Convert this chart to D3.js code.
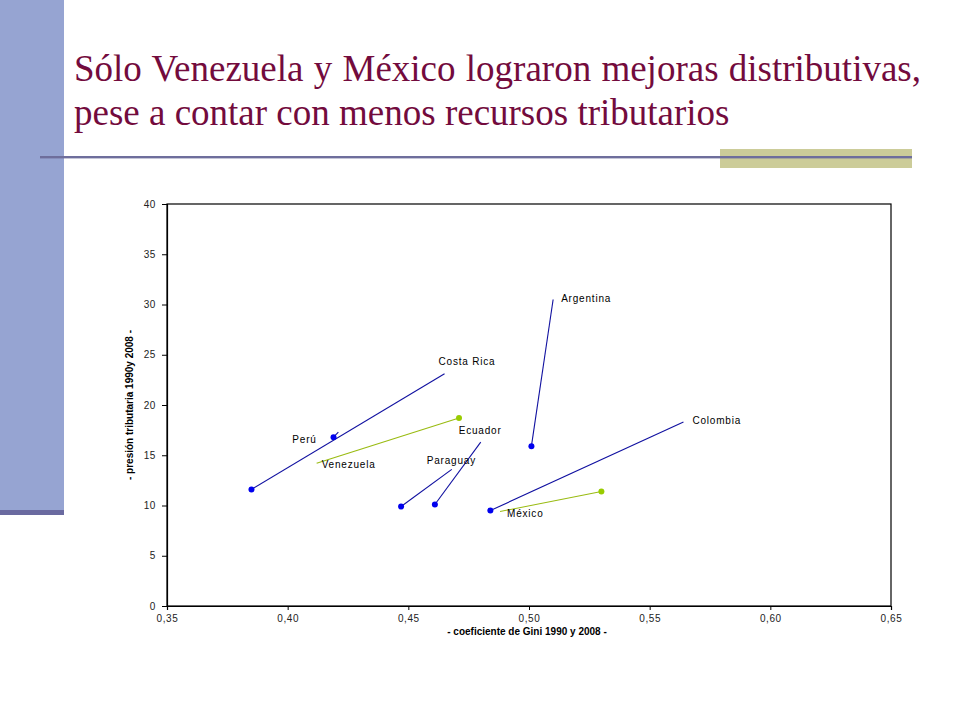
<!DOCTYPE html>
<html><head><meta charset="utf-8">
<script src="https://cdn.jsdelivr.net/npm/d3@7"></script>
<style>
html,body{margin:0;padding:0;background:#fff;}
svg{display:block;}
</style></head>
<body>
<svg id="c" width="960" height="720"></svg>
<script>
// ---- data ----
const titleLines = ["Sólo Venezuela y México lograron mejoras distributivas,", "pese a contar con menos recursos tributarios"];
const countries = ["Argentina","Costa Rica","Colombia","Ecuador","Paraguay","Perú","Venezuela","México"];
const gini1990 = [0.501, 0.385, 0.484, 0.461, 0.447, 0.419, 0.471, 0.530];
const tax1990  = [15.9, 11.6, 9.5, 10.1, 9.9, 16.8, 18.7, 11.4];
const gini2008 = [0.510, 0.465, 0.564, 0.480, 0.468, 0.421, 0.412, 0.488];
const tax2008  = [30.5, 23.1, 18.3, 16.3, 13.6, 17.3, 14.2, 9.4];
const improved = [false,false,false,false,false,false,true,true];
const xTicks = [0.35,0.40,0.45,0.50,0.55,0.60,0.65];
const yTicks = [0,5,10,15,20,25,30,35,40];
const xTitle = "- coeficiente de Gini 1990 y 2008 -";
const yTitle = "- presión tributaria 1990y 2008 -";
// label offsets (dx, dy) relative to 2008 end
const labelOff = [[8,3],[-6,-9],[9,2],[-22,-8],[-25,-5],[-46,11],[5,5],[7,5]];

const svg = d3.select("#c");

// slide decoration
svg.append("rect").attr("x",0).attr("y",0).attr("width",64).attr("height",511).attr("fill","#96A4D2");
svg.append("rect").attr("x",0).attr("y",510).attr("width",64).attr("height",5).attr("fill","#6A6AA0");
svg.append("rect").attr("x",720).attr("y",149).attr("width",192).attr("height",19).attr("fill","#CCCC99");
svg.append("rect").attr("x",40).attr("y",156).attr("width",872).attr("height",2.4).attr("fill","#6E6E9C");

// title
const tg = svg.append("g");
const tLeft = 74, tRight = 921;
titleLines.forEach((t,i)=>{
  const el = tg.append("text").attr("x",tLeft).attr("y",81 + i*44)
    .attr("font-family","'Liberation Serif','Times New Roman',serif")
    .attr("font-size",37).attr("fill","#730B3D").text(t);
  if(i===0){
    const w = el.node().getComputedTextLength();
    const gaps = t.split(" ").length-1;
    const ws = (tRight - tLeft - w)/gaps;
    el.attr("word-spacing", ws);
  }
});

// plot
const L=167,R=891,T=204,B=606;
const x = d3.scaleLinear().domain([0.35,0.65]).range([L,R]);
const y = d3.scaleLinear().domain([0,40]).range([B,T]);

svg.append("rect").attr("x",L).attr("y",T).attr("width",R-L).attr("height",B-T)
  .attr("fill","none").attr("stroke","#000").attr("stroke-width",1.2);

const xa = svg.append("g").attr("transform",`translate(0,${B})`)
  .call(d3.axisBottom(x).tickValues(xTicks).tickSize(4).tickPadding(5)
        .tickFormat(d=>d3.format(".2f")(d).replace(".",",")));
const ya = svg.append("g").attr("transform",`translate(${L},0)`)
  .call(d3.axisLeft(y).tickValues(yTicks).tickSize(5).tickPadding(6));
[xa,ya].forEach(a=>{
  a.select(".domain").attr("stroke","#000").attr("stroke-width",1.2);
  a.selectAll(".tick line").attr("stroke","#000");
  a.selectAll("text").attr("font-family","'Liberation Sans',Arial,sans-serif")
    .attr("font-size",10).attr("fill","#222").attr("letter-spacing",0.6);
});

svg.append("text").attr("x",(L+R)/2 - 2).attr("y",635).attr("text-anchor","middle")
  .attr("font-family","'Liberation Sans Narrow','Liberation Sans',Arial,sans-serif")
  .attr("font-weight","bold").attr("font-size",10).attr("fill","#000").text(xTitle);
svg.append("text").attr("transform",`translate(133,${(T+B)/2}) rotate(-90)`)
  .attr("text-anchor","middle")
  .attr("font-family","'Liberation Sans Narrow','Liberation Sans',Arial,sans-serif")
  .attr("font-weight","bold").attr("font-size",10).attr("fill","#000").text(yTitle);

const data = countries.map((c,i)=>({c,g0:gini1990[i],t0:tax1990[i],g1:gini2008[i],t1:tax2008[i],imp:improved[i],off:labelOff[i]}));

const g = svg.append("g");
g.selectAll("line.seg").data(data).join("line")
  .attr("x1",d=>x(d.g0)).attr("y1",d=>y(d.t0))
  .attr("x2",d=>x(d.g1)).attr("y2",d=>y(d.t1))
  .attr("stroke",d=>d.imp?"#99BB11":"#1010A0").attr("stroke-width",1.1);
g.selectAll("circle").data(data).join("circle")
  .attr("cx",d=>x(d.g0)).attr("cy",d=>y(d.t0)).attr("r",3)
  .attr("fill",d=>d.imp?"#99CC00":"#0000EE");
g.selectAll("text").data(data).join("text")
  .attr("x",d=>x(d.g1)+d.off[0]).attr("y",d=>y(d.t1)+d.off[1])
  .attr("font-family","'Liberation Sans',Arial,sans-serif").attr("font-size",10)
  .attr("letter-spacing",0.8).attr("fill","#000").text(d=>d.c);
</script>
</body></html>
